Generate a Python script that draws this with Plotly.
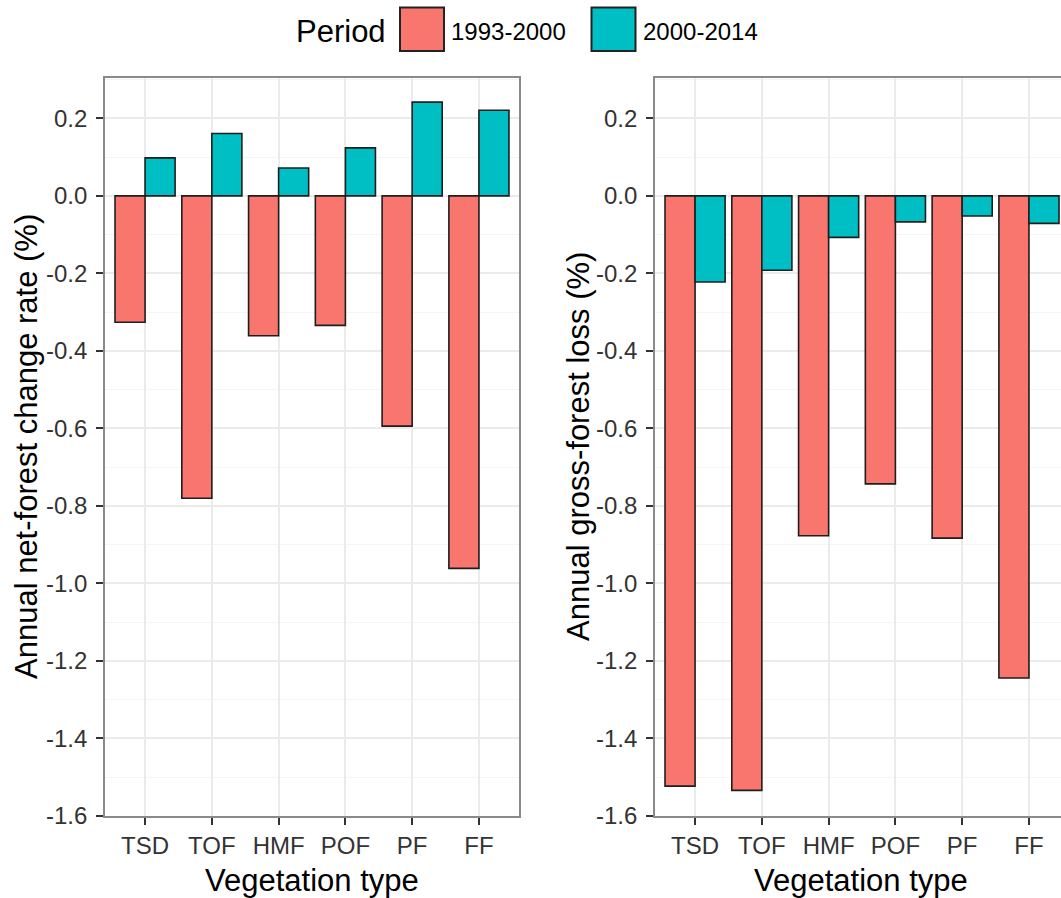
import plotly.graph_objects as go

# ---------------- data ----------------
categories = ["TSD", "TOF", "HMF", "POF", "PF", "FF"]
periods = ["1993-2000", "2000-2014"]
net_change_1993_2000 = [-0.326, -0.780, -0.361, -0.334, -0.594, -0.961]
net_change_2000_2014 = [0.098, 0.161, 0.072, 0.124, 0.242, 0.221]
gross_loss_1993_2000 = [-1.523, -1.534, -0.877, -0.743, -0.883, -1.244]
gross_loss_2000_2014 = [-0.222, -0.192, -0.107, -0.067, -0.052, -0.071]
y_tick_vals = [-1.6, -1.4, -1.2, -1.0, -0.8, -0.6, -0.4, -0.2, 0.0, 0.2]
y_tick_text = ["-1.6", "-1.4", "-1.2", "-1.0", "-0.8", "-0.6", "-0.4", "-0.2", "0.0", "0.2"]
y_minor_vals = [-1.5, -1.3, -1.1, -0.9, -0.7, -0.5, -0.3, -0.1, 0.1, 0.3]

# ---------------- style ----------------
W, H = 1061, 898
FONT = "Liberation Sans, Arial, sans-serif"
RED = "#F8766D"
CYAN = "#00BFC4"
OUTLINE = "#1e1e1e"
GRID = "#EBEBEB"
MINOR = "#F5F5F5"
BORDER = "#8a8a8a"
TICKC = "#333333"
TICKFONT = dict(family=FONT, size=24, color="#333333")


def px(x):
    return x / W


def py(y):
    return 1 - y / H


fig = go.Figure()

panels = [
    ("x", "y", net_change_1993_2000, net_change_2000_2014),
    ("x2", "y2", gross_loss_1993_2000, gross_loss_2000_2014),
]
for xa, ya, v1, v2 in panels:
    for name, vals, col in ((periods[0], v1, RED), (periods[1], v2, CYAN)):
        fig.add_trace(go.Bar(
            x=categories, y=vals, name=name, xaxis=xa, yaxis=ya,
            marker=dict(color=col, line=dict(color=OUTLINE, width=1.6)),
            showlegend=False, offsetgroup=name,
        ))

ydom = [py(816), py(77.5)]

common_x = dict(
    type="category", showline=True, mirror=True, linecolor=BORDER, linewidth=1.6,
    ticks="outside", ticklen=7, tickwidth=1.6, tickcolor=TICKC,
    showgrid=True, gridcolor=GRID, gridwidth=1.5, tickfont=TICKFONT,
    zeroline=False, fixedrange=True, automargin=False,
)
common_y = dict(
    range=[-1.6, 0.3055], tickmode="array", tickvals=y_tick_vals, ticktext=y_tick_text,
    ticks="outside", ticklen=7, tickwidth=1.6, tickcolor=TICKC,
    showgrid=True, gridcolor=GRID, gridwidth=1.5, zeroline=False,
    tickfont=TICKFONT, showline=True, linecolor=BORDER, linewidth=1.6,
    minor=dict(tickmode="array", tickvals=y_minor_vals, showgrid=True,
               gridcolor=MINOR, gridwidth=1, ticks=""),
    domain=ydom, ticklabelstandoff=4, automargin=False, fixedrange=True,
)

fig.update_layout(
    width=W, height=H,
    margin=dict(l=0, r=0, t=0, b=0, autoexpand=False),
    paper_bgcolor="white", plot_bgcolor="white",
    barmode="group", bargap=0.1, bargroupgap=0,
    font=dict(family=FONT, color="black"),
    showlegend=False,
    xaxis=dict(common_x, domain=[px(105), px(519)], range=[-0.6, 5.6], anchor="y"),
    yaxis=dict(common_y, mirror=True, anchor="x"),
    xaxis2=dict(common_x, domain=[px(655), 1.0], range=[-0.6, 5.48], anchor="y2"),
    yaxis2=dict(common_y, mirror=False, anchor="x2"),
)

# ---------------- titles ----------------
ann = []
TITLE = dict(family=FONT, size=31, color="black")
ann.append(dict(text="Vegetation type", x=px(312), y=py(880), xref="paper", yref="paper",
                xanchor="center", yanchor="middle", showarrow=False, font=TITLE))
ann.append(dict(text="Vegetation type", x=px(861), y=py(880), xref="paper", yref="paper",
                xanchor="center", yanchor="middle", showarrow=False, font=TITLE))
ann.append(dict(text="Annual net-forest change rate (%)", x=px(26), y=py(447),
                xref="paper", yref="paper", xanchor="center", yanchor="middle",
                textangle=-90, showarrow=False, font=TITLE))
ann.append(dict(text="Annual gross-forest loss (%)", x=px(578), y=py(447),
                xref="paper", yref="paper", xanchor="center", yanchor="middle",
                textangle=-90, showarrow=False, font=TITLE))

# ---------------- legend (drawn) ----------------
ann.append(dict(text="Period", x=px(294), y=py(31), xref="paper", yref="paper",
                xanchor="left", yanchor="middle", showarrow=False,
                font=dict(family=FONT, size=31, color="black")))
ann.append(dict(text=periods[0], x=px(449), y=py(31), xref="paper", yref="paper",
                xanchor="left", yanchor="middle", showarrow=False,
                font=dict(family=FONT, size=24, color="black")))
ann.append(dict(text=periods[1], x=px(641), y=py(31), xref="paper", yref="paper",
                xanchor="left", yanchor="middle", showarrow=False,
                font=dict(family=FONT, size=24, color="black")))
fig.update_layout(annotations=ann)

shapes = []
for x0, x1, col in ((400, 444, RED), (591.5, 635.5, CYAN)):
    shapes.append(dict(type="rect", xref="paper", yref="paper",
                       x0=px(x0), x1=px(x1), y0=py(51), y1=py(7.5),
                       fillcolor=col, line=dict(color="#222222", width=2)))
fig.update_layout(shapes=shapes)

fig.write_html("out.html")
